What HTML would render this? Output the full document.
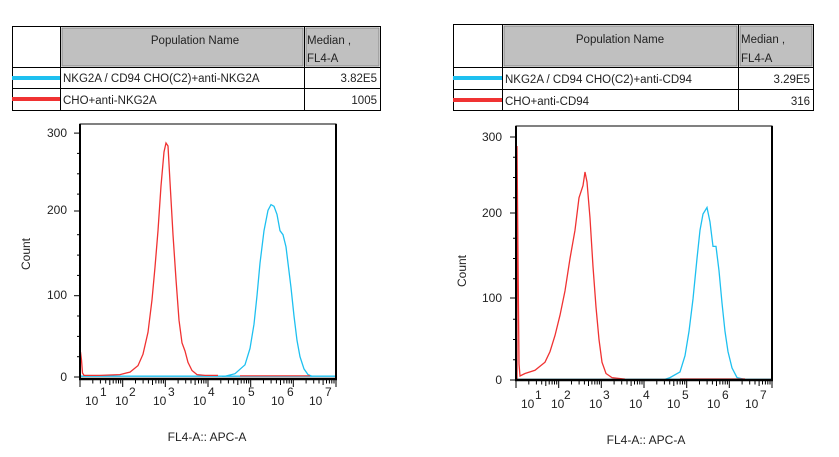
<!DOCTYPE html>
<html><head><meta charset="utf-8"><style>
body{margin:0;background:#fff;width:839px;height:457px;overflow:hidden}
svg{position:absolute;left:0;top:0}
</style></head><body>
<svg width="839" height="457" xmlns="http://www.w3.org/2000/svg" xmlns:xlink="http://www.w3.org/1999/xlink" font-family="Liberation Sans, Arial, sans-serif" fill="#222">
<defs>
<g id="mt" stroke="#000" stroke-width="1">
<line x1="0" y1="0" x2="0" y2="7"/>
<line x1="12.8" y1="0" x2="12.8" y2="3.5"/><line x1="20.4" y1="0" x2="20.4" y2="3.5"/>
<line x1="25.7" y1="0" x2="25.7" y2="3.5"/><line x1="29.8" y1="0" x2="29.8" y2="5"/>
<line x1="33.2" y1="0" x2="33.2" y2="3.5"/><line x1="36.1" y1="0" x2="36.1" y2="3.5"/>
<line x1="38.5" y1="0" x2="38.5" y2="3.5"/><line x1="40.7" y1="0" x2="40.7" y2="3.5"/>
</g>
</defs>
<!-- Left table -->
<g stroke="#000" stroke-width="1" fill="none">
<rect x="12.5" y="26.5" width="368" height="84"/>
<line x1="60.5" y1="26" x2="60.5" y2="111"/>
<line x1="304.5" y1="26" x2="304.5" y2="111"/>
<line x1="12" y1="67.5" x2="381" y2="67.5"/>
<line x1="12" y1="88.5" x2="381" y2="88.5"/>
</g>
<rect x="62" y="28" width="241" height="38" fill="#c0c0c0" stroke="#888"/>
<rect x="306" y="28" width="73" height="38" fill="#c0c0c0" stroke="#888"/>
<rect x="12" y="76" width="48" height="4" fill="#1ec0f0"/>
<rect x="12" y="97" width="48" height="4" fill="#f03232"/>
<g font-size="11.5">
<text x="195" y="44" text-anchor="middle">Population Name</text>
<text x="307" y="44">Median ,</text><text x="307" y="62">FL4-A</text>
<text x="63" y="82">NKG2A / CD94 CHO(C2)+anti-NKG2A</text>
<text x="377" y="82" text-anchor="end">3.82E5</text>
<text x="63" y="104">CHO+anti-NKG2A</text>
<text x="377" y="104" text-anchor="end">1005</text>
</g>
<!-- Right table -->
<g stroke="#000" stroke-width="1" fill="none">
<rect x="453.5" y="24.5" width="360" height="86"/>
<line x1="502.5" y1="24" x2="502.5" y2="111"/>
<line x1="738.5" y1="24" x2="738.5" y2="111"/>
<line x1="453" y1="67.5" x2="814" y2="67.5"/>
<line x1="453" y1="89.5" x2="814" y2="89.5"/>
</g>
<rect x="504" y="26" width="233" height="40" fill="#c0c0c0" stroke="#888"/>
<rect x="740" y="26" width="72" height="40" fill="#c0c0c0" stroke="#888"/>
<rect x="453" y="76" width="49" height="4" fill="#1ec0f0"/>
<rect x="453" y="98" width="49" height="4" fill="#f03232"/>
<g font-size="11.5">
<text x="620" y="43" text-anchor="middle">Population Name</text>
<text x="741" y="43">Median ,</text><text x="741" y="62">FL4-A</text>
<text x="505" y="83">NKG2A / CD94 CHO(C2)+anti-CD94</text>
<text x="810" y="83" text-anchor="end">3.29E5</text>
<text x="505" y="105">CHO+anti-CD94</text>
<text x="810" y="105" text-anchor="end">316</text>
</g>

<!-- LEFT PLOT -->
<path d="M80 376.2 L336 376.2" stroke="#1ec0f0" stroke-width="1.3" fill="none"/>
<path d="M222 376.2 L225 376.2 L235 373.7 L245 364.8 L250 348.5 L254 324.2 L257 295.7 L260 263.2 L264 230.7 L268 210.3 L271 204.6 L274 206.3 L277 214.4 L280 230.7 L283 234.7 L286 246.9 L288 263.2 L291 287.6 L294 316 L297 340.4 L300 356.7 L304 368.9 L308 374.6 L312 376.2" stroke="#1ec0f0" stroke-width="1.3" fill="none"/>
<path d="M240 375.8 L310 375.8" stroke="#f03232" stroke-width="1.2" fill="none"/>
<path d="M80.5 352 L81.5 360 L82.5 373 L84 375.4 L100 375.4 L120 374.6 L130 372.1 L138 365.6 L143 354.2 L148 332.3 L152 299.8 L155 267.2 L158 230.7 L161 185.9 L164 152 L166 143 L168 146 L170 181.9 L173 234.7 L176 279.4 L179 320.1 L182 342.9 L185 351 L188 362.4 L192 370.5 L197 374.6 L205 375.4 L218 375.4" stroke="#f03232" stroke-width="1.3" fill="none"/>
<rect x="80" y="124" width="256" height="255" fill="none" stroke="#000" stroke-width="1"/>
<line x1="80" y1="124" x2="80" y2="380" stroke="#000" stroke-width="2"/>
<line x1="336" y1="124" x2="336" y2="380" stroke="#000" stroke-width="2"/>
<line x1="79" y1="379" x2="337" y2="379" stroke="#000" stroke-width="2.5"/>
<g stroke="#000" stroke-width="1">
<line x1="74" y1="377" x2="80" y2="377"/><line x1="77" y1="356.7" x2="80" y2="356.7"/><line x1="77" y1="336.4" x2="80" y2="336.4"/><line x1="77" y1="316" x2="80" y2="316"/>
<line x1="74" y1="295.7" x2="80" y2="295.7"/><line x1="77" y1="275.4" x2="80" y2="275.4"/><line x1="77" y1="255.1" x2="80" y2="255.1"/><line x1="77" y1="234.7" x2="80" y2="234.7"/>
<line x1="74" y1="211" x2="80" y2="211"/><line x1="77" y1="194.1" x2="80" y2="194.1"/><line x1="77" y1="173.8" x2="80" y2="173.8"/><line x1="77" y1="153.4" x2="80" y2="153.4"/>
<line x1="74" y1="133.1" x2="80" y2="133.1"/>
</g>
<g font-size="12" text-anchor="end">
<text x="67" y="381">0</text><text x="67" y="299">100</text><text x="67" y="214">200</text><text x="67" y="137">300</text>
</g>
<use xlink:href="#mt" x="80" y="380"/><use xlink:href="#mt" x="122.7" y="380"/><use xlink:href="#mt" x="165.3" y="380"/>
<use xlink:href="#mt" x="208" y="380"/><use xlink:href="#mt" x="250.7" y="380"/><use xlink:href="#mt" x="293.3" y="380"/>
<line x1="336" y1="380" x2="336" y2="387" stroke="#000"/>
<g font-size="12">
<text x="85" y="405">10</text><text x="100" y="396">1</text>
<text x="115" y="405">10</text><text x="129" y="396">2</text>
<text x="153" y="405">10</text><text x="168" y="396">3</text>
<text x="193" y="405">10</text><text x="208" y="396">4</text>
<text x="232" y="405">10</text><text x="248" y="396">5</text>
<text x="271" y="405">10</text><text x="287" y="396">6</text>
<text x="309" y="405">10</text><text x="325" y="396">7</text>
<text x="207" y="441" text-anchor="middle">FL4-A:: APC-A</text>
<text x="30" y="254" text-anchor="middle" transform="rotate(-90 30 254)">Count</text>
</g>

<!-- RIGHT PLOT -->
<path d="M516 379.4 L772 379.4" stroke="#1ec0f0" stroke-width="1.3" fill="none"/>
<path d="M665 379.4 L670 377.6 L680 371.9 L685 355.7 L689 331.4 L693 299 L697 258.5 L700 230.2 L703 214 L707 207.5 L710 222 L713 246.4 L716 246.4 L719 270.7 L722 303 L725 331.4 L728 351.6 L732 367.9 L737 377.6 L745 379.4" stroke="#1ec0f0" stroke-width="1.3" fill="none"/>
<path d="M680 379 L745 379" stroke="#f03232" stroke-width="1.2" fill="none"/>
<path d="M517 379 L517 146 L518 258 L519 363.8 L520 376 L525 373.5 L535 370.3 L545 362.2 L550 351.6 L555 335.5 L560 315.2 L565 290.9 L570 258.5 L575 230.2 L579 197.8 L583 185.6 L585 172 L587 182 L590 218 L593 266.6 L596 307.1 L599 339.5 L602 362.2 L606 373.5 L612 377.6 L625 379.2" stroke="#f03232" stroke-width="1.3" fill="none"/>
<rect x="516" y="126" width="256" height="254" fill="none" stroke="#000" stroke-width="1"/>
<line x1="516" y1="126" x2="516" y2="381" stroke="#000" stroke-width="2"/>
<line x1="772" y1="126" x2="772" y2="381" stroke="#000" stroke-width="2"/>
<line x1="515" y1="380" x2="773" y2="380" stroke="#000" stroke-width="2.5"/>
<g stroke="#000" stroke-width="1">
<line x1="510" y1="380" x2="516" y2="380"/><line x1="513" y1="359.75" x2="516" y2="359.75"/><line x1="513" y1="339.5" x2="516" y2="339.5"/><line x1="513" y1="319.25" x2="516" y2="319.25"/>
<line x1="510" y1="298" x2="516" y2="298"/><line x1="513" y1="278.75" x2="516" y2="278.75"/><line x1="513" y1="258.5" x2="516" y2="258.5"/><line x1="513" y1="238.25" x2="516" y2="238.25"/>
<line x1="510" y1="213" x2="516" y2="213"/><line x1="513" y1="197.75" x2="516" y2="197.75"/><line x1="513" y1="177.5" x2="516" y2="177.5"/><line x1="513" y1="157.25" x2="516" y2="157.25"/>
<line x1="510" y1="137" x2="516" y2="137"/>
</g>
<g font-size="12" text-anchor="end">
<text x="502" y="384">0</text><text x="502" y="302">100</text><text x="502" y="217">200</text><text x="502" y="141">300</text>
</g>
<use xlink:href="#mt" x="516" y="381"/><use xlink:href="#mt" x="558.7" y="381"/><use xlink:href="#mt" x="601.3" y="381"/>
<use xlink:href="#mt" x="644" y="381"/><use xlink:href="#mt" x="686.7" y="381"/><use xlink:href="#mt" x="729.3" y="381"/>
<line x1="772" y1="381" x2="772" y2="388" stroke="#000"/>
<g font-size="12">
<text x="521" y="408">10</text><text x="535" y="399">1</text>
<text x="551" y="408">10</text><text x="564" y="399">2</text>
<text x="589" y="408">10</text><text x="603" y="399">3</text>
<text x="629" y="408">10</text><text x="643" y="399">4</text>
<text x="667" y="408">10</text><text x="682" y="399">5</text>
<text x="707" y="408">10</text><text x="722" y="399">6</text>
<text x="745" y="408">10</text><text x="760" y="399">7</text>
<text x="646" y="444" text-anchor="middle">FL4-A:: APC-A</text>
<text x="466" y="271" text-anchor="middle" transform="rotate(-90 466 271)">Count</text>
</g>
</svg>
</body></html>
